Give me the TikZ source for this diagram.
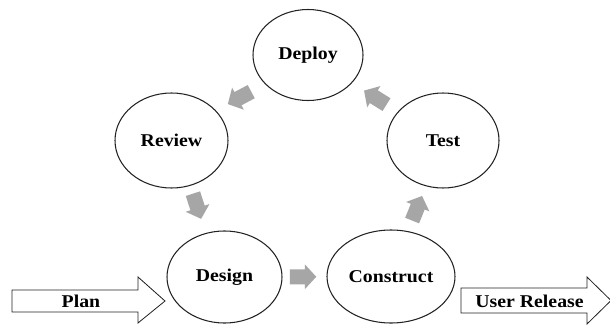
\documentclass[tikz,border=0pt]{standalone}
\usepackage{fontspec}
\setmainfont{Liberation Serif}[FakeStretch=1.1]
\usetikzlibrary{shapes.geometric,calc}
\definecolor{garrowc}{HTML}{A6A6A6}
\definecolor{inkc}{HTML}{222222}
\begin{document}
\begin{tikzpicture}[x=1pt,y=-1pt,
  phase/.style={ellipse,draw=inkc,line width=1.05pt,inner sep=0pt,
    font=\fontsize{18}{20}\selectfont\bfseries,text=black},
  lbl/.style={inner sep=0pt,font=\fontsize{18}{20}\selectfont\bfseries,text=black},
  outarrow/.style={draw=inkc,line width=0.8pt,fill=white},
  garrow/.pic={\fill[garrowc] (-13,-7.5) -- (2,-7.5) -- (2,-12.5) -- (13.5,0) -- (2,12.5) -- (2,7.5) -- (-13,7.5) -- cycle;}
]
\useasboundingbox (0,0) rectangle (610,324);
\fill[white] (0,0) rectangle (610,324);

\node[phase,minimum width=110pt,minimum height=91pt] (deploy) at (308,55) {Deploy};
\node[phase,minimum width=113pt,minimum height=95pt] (review) at (171.5,140.5) {Review};
\node[phase,minimum width=112pt,minimum height=95pt] (test) at (443,140.5) {Test};
\node[phase,minimum width=115pt,minimum height=92pt] (design) at (224.5,277) {Design};
\node[phase,minimum width=128pt,minimum height=93pt] (construct) at (391,276.5) {Construct};

\pic[rotate=208] at ($(deploy)!0.5!(review)$) {garrow};
\pic[rotate=-72] at ($(review)!0.48!(design)$) {garrow};
\pic[rotate=0] at ($(design)!0.47!(construct)$) {garrow};
\pic[rotate=68] at ($(construct)!0.5!(test)$) {garrow};
\pic[rotate=148] at ($(test)!0.5!(deploy)$) {garrow};

\draw[outarrow] (12,290) -- (138,290) -- (138,277) -- (165,301) -- (138,323) -- (138,312) -- (12,312) -- cycle;
\node[lbl] (plan) at (81,301) {Plan};

\draw[outarrow] (461,288) -- (587,288) -- (587,277) -- (611,300.5) -- (587,324) -- (587,313) -- (461,313) -- cycle;
\node[lbl] (release) at (529.5,301.5) {User Release};
\end{tikzpicture}
\end{document}
